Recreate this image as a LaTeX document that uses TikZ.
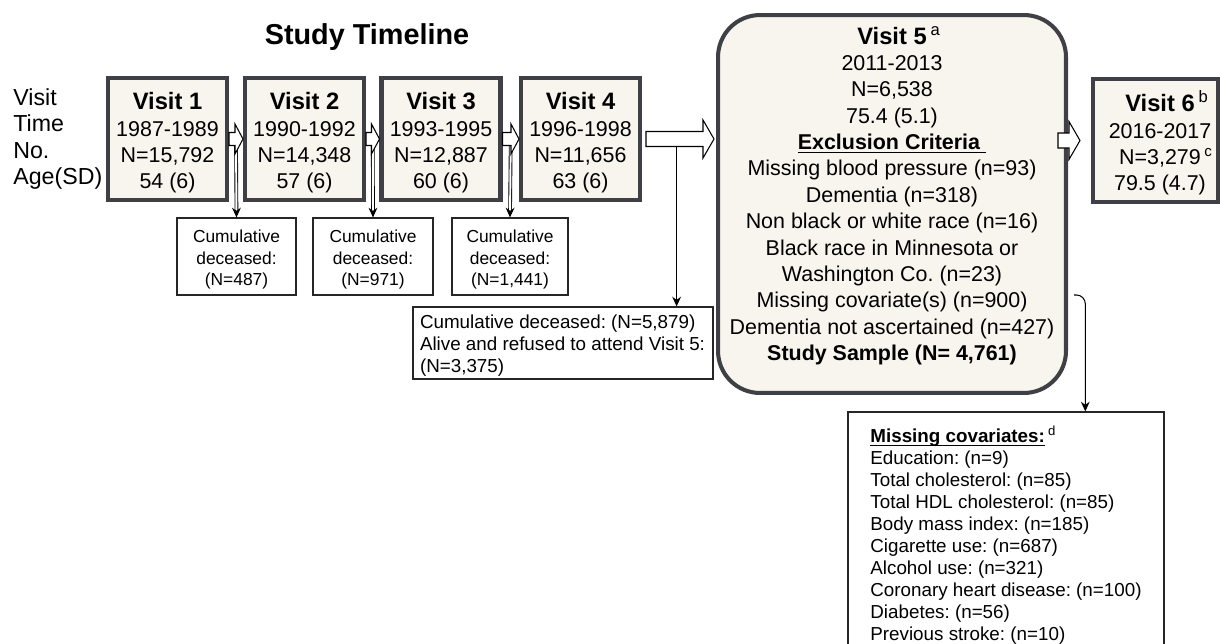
\documentclass[tikz,border=0pt]{standalone}
\usepackage{fontspec}
\setmainfont{Liberation Sans}
\frenchspacing
\definecolor{visitfill}{RGB}{247, 245, 238}
\definecolor{visitedge}{RGB}{62, 64, 69}
\usepackage{tikz}
\usetikzlibrary{arrows.meta, calc}

\newcommand{\visithead}[1]{{\fontsize{13.5}{14.8}\selectfont\bfseries #1}}
\newcommand{\supnote}[1]{\rlap{\,\textsuperscript{\mdseries #1}}}
\newcommand{\headline}[1]{\underline{\smash{\textbf{#1}}}}
% hollow block arrow: start, tip, head length, shaft half width, head half width
\newcommand{\hollowarrow}[5]{%
  \draw[hollow] ($(#1)+(0,-#4)$) -- ($(#2)+(-#3,-#4)$) -- ($(#2)+(-#3,-#5)$) -- (#2)
    -- ($(#2)+(-#3,#5)$) -- ($(#2)+(-#3,#4)$) -- ($(#1)+(0,#4)$) -- cycle;}

\begin{document}
\begin{tikzpicture}[x=0.02cm, y=-0.02cm,
  visitbox/.style={draw=visitedge, fill=visitfill, line width=2.3pt, minimum width=2.38cm, minimum height=2.44cm, inner sep=0pt},
  visittext/.style={align=center, inner sep=0pt, font=\fontsize{12.2}{15}\selectfont},
  cumbox/.style={draw=black!85, line width=0.7pt, minimum height=1.54cm, inner sep=0pt},
  cumtext/.style={align=center, inner sep=0pt, font=\fontsize{9.9}{12.2}\selectfont},
  notebox/.style={draw=black!85, line width=0.7pt, inner sep=0pt},
  notetext/.style={align=left, inner sep=0pt, font=\fontsize{10.7}{12.5}\selectfont},
  hollow/.style={draw=black, fill=white, line width=0.6pt, line join=miter},
  link/.style={-{Stealth[length=5.5pt, width=5pt]}, line width=0.6pt},
  dlink/.style={-{Stealth[length=5.5pt, width=5pt]}, double, double distance=1.1pt, line width=0.5pt}
]
  \useasboundingbox (0,0) rectangle (1220,643);

  % Title and row labels
  \node[font=\fontsize{16.4}{18}\selectfont\bfseries] (title) at (367,37) {Study Timeline};
  \node[anchor=west, align=left, inner sep=0pt, font=\fontsize{13.2}{15}\selectfont] (rowlabels) at (13,139) {Visit\\Time\\No.\\Age(SD)};

  % Visits 1-4
  \node[visitbox] (v1) at (167.5,139) {};
  \node[visitbox] (v2) at (304.5,139) {};
  \node[visitbox] (v3) at (441,139) {};
  \node[visitbox] (v4) at (580.5,139) {};
  \node[visittext] (v1txt) at ($(v1)+(0,4)$) {\visithead{Visit 1}\\1987-1989\\N=15,792\\54 (6)};
  \node[visittext] (v2txt) at ($(v2)+(0,4)$) {\visithead{Visit 2}\\1990-1992\\N=14,348\\57 (6)};
  \node[visittext] (v3txt) at ($(v3)+(0,4)$) {\visithead{Visit 3}\\1993-1995\\N=12,887\\60 (6)};
  \node[visittext] (v4txt) at ($(v4)+(0,4)$) {\visithead{Visit 4}\\1996-1998\\N=11,656\\63 (6)};

  % Visit 5 with exclusion criteria
  \node[visitbox, minimum width=6.96cm, minimum height=7.56cm, rounded corners=0.84cm] (v5) at (892,204) {};
  \node[visittext] (v5txt) at (892,195.5) {
    \visithead{Visit 5\supnote{a}}\\
    2011-2013\\
    N=6,538\\
    75.4 (5.1)\\
    \headline{Exclusion Criteria\ }\\
    Missing blood pressure (n=93)\\
    Dementia (n=318)\\
    Non black or white race (n=16)\\
    Black race in Minnesota or\\
    Washington Co. (n=23)\\
    Missing covariate(s) (n=900)\\
    Dementia not ascertained (n=427)\\
    \textbf{Study Sample (N= 4,761)}
  };

  % Visit 6
  \node[visitbox, minimum width=2.5cm, minimum height=2.46cm] (v6) at (1155.5,140.5) {};
  \node[visittext] (v6txt) at (1160,143) {\visithead{Visit 6\supnote{b}}\\2016-2017\\N=3,279\supnote{c}\\79.5 (4.7)};

  % Cumulative deceased
  \node[cumbox, minimum width=2.38cm] (c1) at (236.5,256.5) {};
  \node[cumbox, minimum width=2.4cm] (c2) at (373,256.5) {};
  \node[cumbox, minimum width=2.32cm] (c3) at (510,256.5) {};
  \node[cumtext] (c1txt) at ($(c1)+(0,3)$) {Cumulative\\deceased:\\(N=487)};
  \node[cumtext] (c2txt) at ($(c2)+(0,3)$) {Cumulative\\deceased:\\(N=971)};
  \node[cumtext] (c3txt) at ($(c3)+(0,3)$) {Cumulative\\deceased:\\(N=1,441)};
  \node[notebox, minimum width=6cm, minimum height=1.44cm] (cum5) at (563,343) {};
  \node[notetext] (cum5txt) at ($(cum5)+(-0.5,3)$) {Cumulative deceased: (N=5,879)\\Alive and refused to attend Visit 5:\\(N=3,375)};

  % Missing covariates
  \node[notebox, minimum width=6.32cm, minimum height=4.86cm] (miss) at (1006,533.5) {};
  \node[notetext] (misstxt) at (1006,535) {
    \headline{Missing covariates:}\supnote{d}\\
    Education: (n=9)\\
    Total cholesterol: (n=85)\\
    Total HDL cholesterol: (n=85)\\
    Body mass index: (n=185)\\
    Cigarette use: (n=687)\\
    Alcohol use: (n=321)\\
    Coronary heart disease: (n=100)\\
    Diabetes: (n=56)\\
    Previous stroke: (n=10)
  };

  % Connectors
  \coordinate (a12) at ($(v1.east)!0.5!(v2.west)$);
  \coordinate (a23) at ($(v2.east)!0.5!(v3.west)$);
  \coordinate (a34) at ($(v3.east)!0.5!(v4.west)$);
  \coordinate (a45s) at ($(v4.east)+(4,0)$);
  \coordinate (a45t) at ($(v4.east -| v5.west)+(-2,0)$);
  \coordinate (a45) at ($(a45s)!0.45!(a45t)$);
  \coordinate (a56s) at ($(v5.east |- v6.west)+(-10,0)$);
  \coordinate (a56t) at ($(v5.east |- v6.west)+(12,0)$);
  \coordinate (mcstart) at ($(v5.east)+(6,91)$);

  \draw[dlink] (a12) -- (c1.north);
  \draw[dlink] (a23) -- (c2.north);
  \draw[dlink] (a34) -- (c3.north);
  \draw[link] (a45) -- (a45 |- cum5.north);
  \draw[link, rounded corners=5pt] (mcstart) -| ($(miss.north)!0.5!(miss.north east)$);

  \hollowarrow{v1.east}{v2.west}{8}{6.5}{15}
  \hollowarrow{v2.east}{v3.west}{8}{6.5}{15}
  \hollowarrow{v3.east}{v4.west}{8}{6.5}{15}
  \hollowarrow{a45s}{a45t}{11}{7.5}{19}
  \hollowarrow{a56s}{a56t}{11}{7.5}{19}
\end{tikzpicture}
\end{document}
